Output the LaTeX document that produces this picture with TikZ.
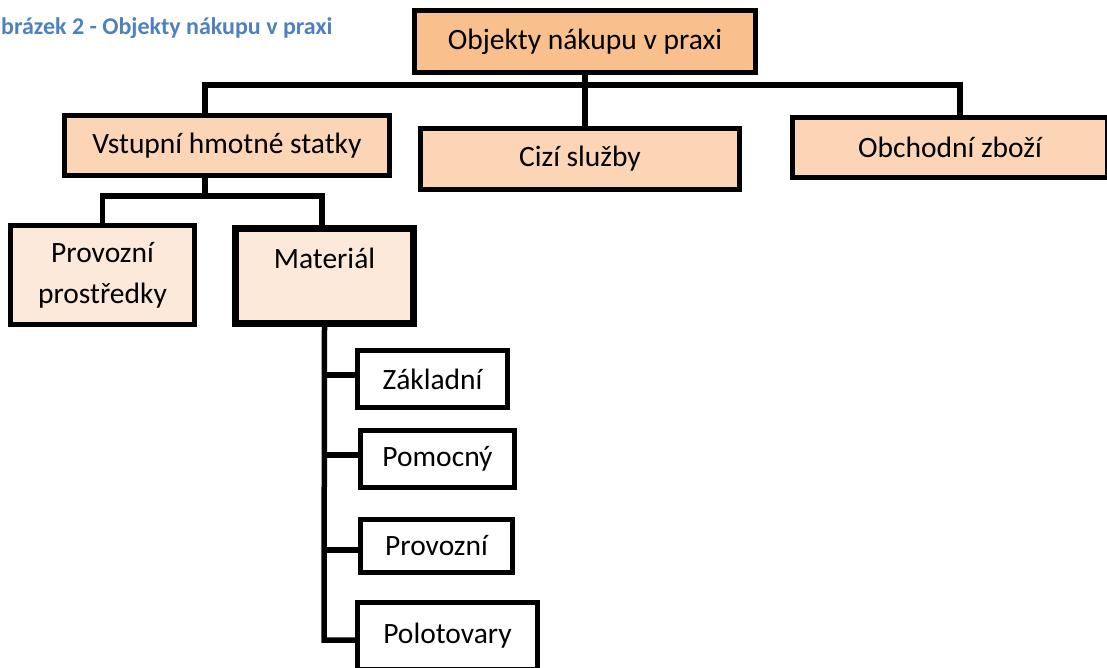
\documentclass[tikz,border=0pt]{standalone}
\usepackage{fontspec}
\setmainfont{Carlito}
\definecolor{topfill}{HTML}{F9C08E}
\definecolor{midfill}{HTML}{FBD5B5}
\definecolor{lowfill}{HTML}{FDE9D9}
\definecolor{titleblue}{HTML}{4F81BD}
\begin{document}
\begin{tikzpicture}[x=1pt,y=-1pt,
  box/.style={draw=black, line width=5.5pt, rectangle, inner sep=0pt, font=\fontsize{29.5}{36}\selectfont},
  conn/.style={draw=black, line width=5.5pt}]
\useasboundingbox (0,0) rectangle (1107,668);
\begin{scope}
\clip (0,0) rectangle (1107,668);
\node[anchor=base west, text=titleblue, font=\fontsize{24}{28}\selectfont\bfseries, inner sep=0pt] (title) at (1,35) {brázek 2 - Objekty nákupu v praxi};

\node[box, fill=topfill, minimum width=341pt, minimum height=62pt] (top) at (585,41.5) {Objekty nákupu v praxi};
\node[box, fill=midfill, minimum width=325pt, minimum height=60pt] (vst) at (227,145.5) {Vstupní hmotné statky};
\node[box, fill=midfill, minimum width=319pt, minimum height=61pt] (cizi) at (580,159) {Cizí služby};
\node[box, fill=midfill, minimum width=315pt, minimum height=60pt] (obch) at (950,147.5) {Obchodní zboží};

\node[box, fill=lowfill, minimum width=184pt, minimum height=99pt, align=center] (prov) at (102.5,275) {Provozní\\[5pt]prostředky};
\node[box, fill=lowfill, line width=7pt, minimum width=178pt, minimum height=95pt] (mat) at (324.5,276) {};
\node[font=\fontsize{29.5}{36}\selectfont, inner sep=0pt, anchor=base] (matlabel) at (324.5,268) {Materiál};

\node[box, fill=white, minimum width=150pt, minimum height=57pt] (zak) at (432.5,379) {Základní};
\node[box, fill=white, minimum width=154pt, minimum height=57pt] (pom) at (437.5,459) {Pomocný};
\node[box, fill=white, minimum width=152pt, minimum height=53pt] (pro) at (436.5,546) {Provozní};
\node[box, fill=white, minimum width=180pt, minimum height=67pt] (pol) at (447.5,636) {Polotovary};

% top level connectors
\coordinate (bus) at (585,85);
\coordinate (busL) at (205,85);
\coordinate (busR) at (960,85);
\draw[conn] (top.south) -- (bus);
\draw[conn] ([xshift=-22pt]vst.north) -- (busL) -- (busR) -- ([xshift=10pt]obch.north);
\draw[conn] (bus) -- ([xshift=5pt]cizi.north);

% second level
\coordinate (sub) at (205,196);
\coordinate (subL) at (102.5,196);
\coordinate (subR) at (322,196);
\draw[conn] ([xshift=-22pt]vst.south) -- (sub);
\draw[conn] (prov.north) -- (subL) -- (subR) -- ([xshift=-2.5pt]mat.north);

% material children
\coordinate (mbot) at (324,640);
\draw[conn] (mat.south) -- (mbot) -- (pol.west |- mbot);
\draw[conn] (mat.south |- 0,375) -- (zak.west |- 0,375);
\draw[conn] (mat.south |- 0,455) -- (pom.west |- 0,455);
\draw[conn] (mat.south |- 0,550) -- (pro.west |- 0,550);
\end{scope}
\end{tikzpicture}
\end{document}
